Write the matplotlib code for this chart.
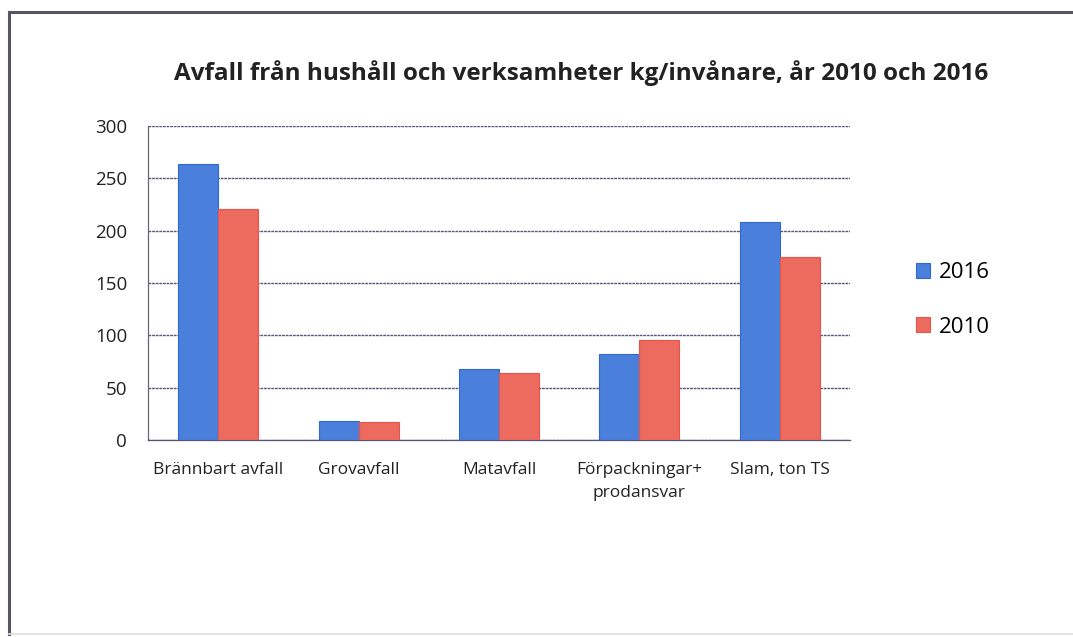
import matplotlib.pyplot as plt
import numpy as np
from matplotlib.lines import Line2D

categories = ["Brännbart avfall", "Grovavfall", "Matavfall", "Förpackningar+\nprodansvar", "Slam, ton TS"]
values_2016 = [264, 18, 68, 82, 208]
values_2010 = [221, 17, 64, 96, 175]
years = ["2016", "2010"]
yticks = [0, 50, 100, 150, 200, 250, 300]

blue = "#4a7fdc"
red = "#ec6b5e"

plt.rcParams['font.family'] = ['Open Sans', 'DejaVu Sans']

fig = plt.figure(figsize=(10.73, 6.37), dpi=100)
ax = fig.add_axes([148 / 1073, 1 - 440 / 637, (850 - 148) / 1073, (440 - 126) / 637])

x = np.arange(len(categories))
w = 0.285
ax.bar(x - w / 2, values_2016, w, color=blue, edgecolor="#3168d0", linewidth=0.8, label=years[0], zorder=3)
ax.bar(x + w / 2, values_2010, w, color=red, edgecolor="#e5554a", linewidth=0.8, label=years[1], zorder=3)

ax.set_xlim(-0.5, len(categories) - 0.5)
ax.set_ylim(0, 300)
ax.set_yticks(yticks)
ax.set_yticklabels([str(t) for t in yticks], fontsize=13.5, color="#222222")
ax.set_xticks(x)
ax.set_xticklabels(categories, fontsize=12.5, color="#222222", linespacing=1.55)
ax.tick_params(axis="both", length=0)
ax.tick_params(axis="y", pad=15)
ax.tick_params(axis="x", pad=16)

ax.grid(axis="y", color="#55557a", linewidth=1.0, linestyle=(0, (2, 0.6)), zorder=0)
for s in ["top", "right"]:
    ax.spines[s].set_visible(False)
ax.spines["left"].set_color("#666677")
ax.spines["bottom"].set_color("#55557a")
ax.spines["left"].set_linewidth(0.9)
ax.spines["bottom"].set_linewidth(0.9)

ax.legend(loc="center left", bbox_to_anchor=(1.065, 0.446), frameon=False, fontsize=16,
          handlelength=0.65, handleheight=0.65, handletextpad=0.4, labelspacing=1.49)

fig.text(581 / 1073, 1 - 73 / 637, "Avfall från hushåll och verksamheter kg/invånare, år 2010 och 2016",
         ha="center", va="center", fontsize=17.5, fontweight="bold", color="#222222")

# scanned frame
fig.add_artist(Line2D([9 / 1073, 9 / 1073], [1 - 12 / 637, 1 - 634 / 637], transform=fig.transFigure,
                      color="#555566", linewidth=2.2))
fig.add_artist(Line2D([9 / 1073, 1.0], [1 - 12 / 637, 1 - 12 / 637], transform=fig.transFigure,
                      color="#555566", linewidth=2.2))
fig.add_artist(Line2D([9 / 1073, 1.0], [1 - 634 / 637, 1 - 634 / 637], transform=fig.transFigure,
                      color="#dddddd", linewidth=1.2))

fig.savefig("out.png", dpi=100)
